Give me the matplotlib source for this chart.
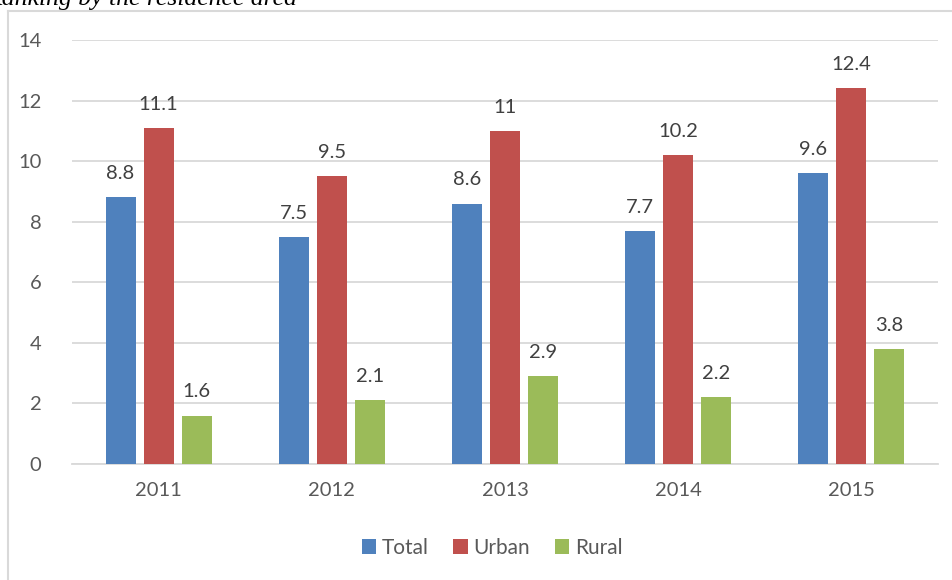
import numpy as np
import matplotlib
matplotlib.use("Agg")
import matplotlib.pyplot as plt
from matplotlib.lines import Line2D

years = ["2011", "2012", "2013", "2014", "2015"]
total = [8.8, 7.5, 8.6, 7.7, 9.6]
urban = [11.1, 9.5, 11.0, 10.2, 12.4]
rural = [1.6, 2.1, 2.9, 2.2, 3.8]
series_names = ["Total", "Urban", "Rural"]
colors = ["#4f81bd", "#c0504d", "#9bbb59"]

plt.rcParams['font.family'] = ['Lato', 'DejaVu Sans']
txt = "#595959"

W, H = 953, 580
fig = plt.figure(figsize=(W / 100, H / 100), dpi=100)
ax = fig.add_axes([72 / W, (H - 464) / H, (938 - 72) / W, (464 - 40) / H])

# outer chart frame (left and top edges visible)
fig.add_artist(Line2D([8 / W, 8 / W], [0, 1 - 11 / H], color="#d9d9d9", lw=1.5,
                      transform=fig.transFigure))
fig.add_artist(Line2D([8 / W, 1], [1 - 11 / H, 1 - 11 / H], color="#d9d9d9", lw=1.5,
                      transform=fig.transFigure))

# caption, cut off at the top left like in the source
fig.text(297 / W, 1 - 5 / H, "Ranking by the residence area", ha="right", va="baseline",
         family="Liberation Serif", style="italic", fontsize=18.5, color="black")

x = np.arange(len(years))
w = 30 / 173
off = 38 / 173
for i, (vals, name, c) in enumerate(zip([total, urban, rural], series_names, colors)):
    bars = ax.bar(x + (i - 1) * off, vals, width=w, color=c, label=name, zorder=3)
    for b, v in zip(bars, vals):
        ax.annotate(f"{v:g}", (b.get_x() + b.get_width() / 2, v), xytext=(0, 11),
                    textcoords="offset points", ha="center", va="bottom",
                    fontsize=14.5, color="#404040")

ax.set_xlim(-0.5, 4.5)
ax.set_ylim(0, 14)
ax.set_yticks(range(0, 15, 2))
ax.set_xticks(x)
ax.set_xticklabels(years)
ax.yaxis.grid(True, color="#d9d9d9", lw=1.3, zorder=0)
ax.set_axisbelow(True)
for s in ["top", "right", "left"]:
    ax.spines[s].set_visible(False)
ax.spines["bottom"].set_color("#d9d9d9")
ax.spines["bottom"].set_linewidth(1.3)
ax.tick_params(length=0, labelsize=14.5, labelcolor=txt)
ax.tick_params(axis="y", pad=22)
ax.tick_params(axis="x", pad=13)

ax.legend(loc="upper center", bbox_to_anchor=(0.485, -0.13), ncol=3, frameon=False,
          fontsize=15, labelcolor=txt, handlelength=0.7, handleheight=0.7,
          handletextpad=0.25, columnspacing=1.2)

fig.savefig("out.png", dpi=100)
